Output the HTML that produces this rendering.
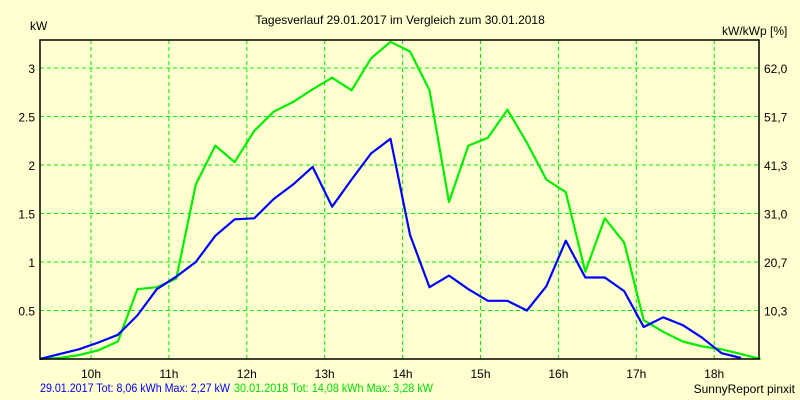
<!DOCTYPE html>
<html><head><meta charset="utf-8"><style>
body{margin:0;background:#ffffd0;}
svg{display:block;font-family:"Liberation Sans",sans-serif;font-size:12px;}
</style></head><body>
<svg id="c" width="800" height="400">
<rect width="800" height="400" fill="#ffffd0"/>
<text x="400" y="24" text-anchor="middle">Tagesverlauf 29.01.2017 im Vergleich zum 30.01.2018</text>
<text x="30" y="30">kW</text>
<text x="722" y="35">kW/kWp [%]</text>
<g id="grid"></g><g id="ticks"></g><g id="lines"></g>
<rect x="40" y="40" width="719" height="319" fill="none" stroke="#000" stroke-width="1.5"/>
<text x="40" y="392" fill="#0000ff" textLength="190" lengthAdjust="spacingAndGlyphs">29.01.2017 Tot: 8,06 kWh Max: 2,27 kW</text>
<text x="234" y="392" fill="#00dd00" textLength="199" lengthAdjust="spacingAndGlyphs">30.01.2018 Tot: 14,08 kWh Max: 3,28 kW</text>
<text x="795" y="393" text-anchor="end">SunnyReport pinxit</text>
</svg>
<script>
const hourTicks=[10,11,12,13,14,15,16,17,18];
const yTicks=[0.5,1,1.5,2,2.5,3];
const yTickLabels=["0.5","1","1.5","2","2.5","3"];
const pctLabels=["10,3","20,7","31,0","41,3","51,7","62,0"];
const startHour=9.345;
const stepHours=0.25;
const series2018=[0,0.01,0.04,0.09,0.18,0.72,0.74,0.83,1.8,2.2,2.03,2.35,2.55,2.65,2.78,2.9,2.77,3.1,3.27,3.17,2.77,1.62,2.2,2.28,2.57,2.23,1.85,1.72,0.9,1.45,1.2,0.4,0.28,0.18,0.13,0.1,0.05,0];
const series2017=[0,0.05,0.1,0.17,0.25,0.45,0.72,0.85,1.0,1.27,1.44,1.45,1.65,1.8,1.98,1.57,1.85,2.12,2.27,1.28,0.74,0.86,0.72,0.6,0.6,0.5,0.75,1.22,0.84,0.84,0.7,0.33,0.43,0.35,0.22,0.06,0.01];
const X=h=>91+(h-10)*77.9;
const Y=v=>359-v*97;
const NS="http://www.w3.org/2000/svg";
function mk(tag,attrs,parent){const e=document.createElementNS(NS,tag);for(const k in attrs)e.setAttribute(k,attrs[k]);document.getElementById(parent).appendChild(e);return e;}
hourTicks.forEach(h=>{
 const l=mk('line',{x1:X(h),x2:X(h),y1:40,y2:359,stroke:'#00ee00','stroke-dasharray':'4,3'},'grid');
 
 
 const t=mk('text',{x:X(h),y:378,'text-anchor':'middle'},'ticks');t.textContent=h+'h';
 
 
});
yTicks.forEach((v,i)=>{
 const l=mk('line',{x1:40,x2:759,y1:Y(v),y2:Y(v),stroke:'#00ee00','stroke-dasharray':'4,3'},'grid');
 
 
 const t=mk('text',{x:35,y:Y(v)+5,'text-anchor':'end'},'ticks');t.textContent=yTickLabels[i];
 
 
 const r=mk('text',{x:764,y:Y(v)+5},'ticks');r.textContent=pctLabels[i];
 
 
});
function line(data,color,name){
 const pts=data.map((v,i)=>X(startHour+i*stepHours).toFixed(1)+','+Y(v).toFixed(1)).join(' ');
 const p=mk('polyline',{points:pts,fill:'none',stroke:color,'stroke-width':2.2,'stroke-linejoin':'round'},'lines');
 
 
}
line(series2018,'#00ee00','line-2018');
line(series2017,'#0000ff','line-2017');
</script>
</body></html>
